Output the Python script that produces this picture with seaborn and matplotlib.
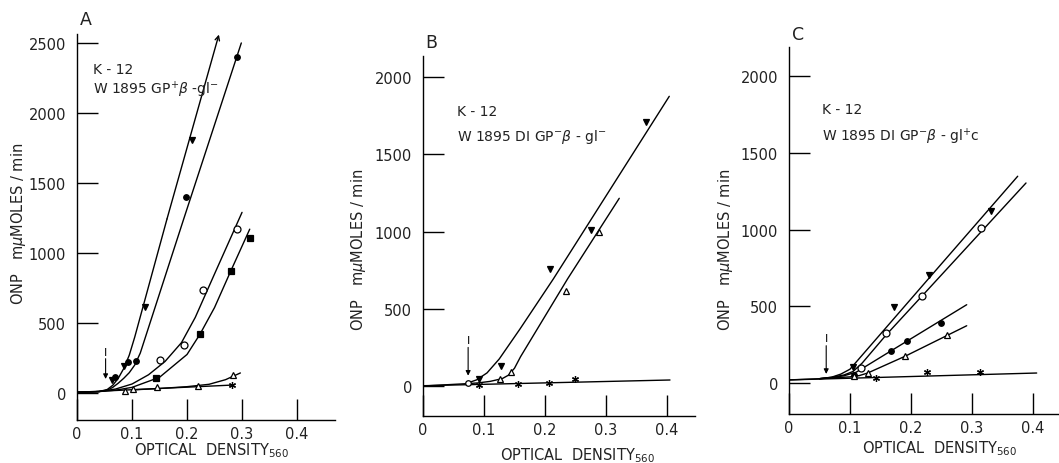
import matplotlib
matplotlib.use("Agg")
import matplotlib.pyplot as plt
import seaborn as sns

sns.set_theme(style="ticks")
plt.rcParams['font.family'] = ['DejaVu Sans']
plt.rcParams['mathtext.default'] = 'regular'

# ---------------- Panel A data ----------------
A_tri_dn_x = [0.063, 0.086, 0.123, 0.209, 0.265]
A_tri_dn_y = [95, 195, 617, 1810, 2590]
A_dot_x = [0.069, 0.093, 0.108, 0.198, 0.2915]
A_dot_y = [112, 219, 231, 1398, 2400]
A_circ_x = [0.150, 0.195, 0.2285, 0.291]
A_circ_y = [238, 345, 738, 1171]
A_sq_x = [0.1436, 0.2236, 0.2794, 0.315]
A_sq_y = [107, 424, 871, 1110]
A_tri_up_x = [0.087, 0.102, 0.146, 0.22, 0.283]
A_tri_up_y = [17, 29, 45, 52, 129]
A_star_x = [0.2824]
A_star_y = [57]

A_curve_tri_dn_x = [0, 0.04, 0.055, 0.065, 0.075, 0.085, 0.095, 0.105, 0.1636, 0.258]
A_curve_tri_dn_y = [5, 10, 25, 55, 105, 175, 270, 400, 1243, 2560]
A_curve_dot_x = [0, 0.04, 0.055, 0.065, 0.075, 0.085, 0.095, 0.105, 0.115, 0.194, 0.2987]
A_curve_dot_y = [5, 10, 20, 40, 70, 105, 145, 200, 285, 1243, 2500]
A_curve_circ_x = [0, 0.04, 0.07, 0.1, 0.13, 0.16, 0.19, 0.215, 0.25, 0.30]
A_curve_circ_y = [5, 10, 28, 64, 130, 225, 360, 540, 850, 1290]
A_curve_sq_x = [0, 0.04, 0.07, 0.1, 0.15, 0.2, 0.2236, 0.25, 0.2794, 0.314]
A_curve_sq_y = [5, 10, 20, 40, 112, 275, 420, 610, 870, 1170]
A_curve_tri_up_x = [0.1, 0.15, 0.2, 0.24, 0.27, 0.297]
A_curve_tri_up_y = [22, 32, 45, 62, 95, 143]
A_curve_star_x = [0, 0.285]
A_curve_star_y = [5, 57]

# ---------------- Panel B data ----------------
B_tri_dn_x = [0.0923, 0.1273, 0.208, 0.2754, 0.365]
B_tri_dn_y = [45, 127, 757, 1010, 1711]
B_tri_up_x = [0.126, 0.1437, 0.234, 0.2885]
B_tri_up_y = [45, 93, 613, 999]
B_circ_x = [0.0732]
B_circ_y = [17]
B_star_x = [0.092, 0.156, 0.207, 0.25]
B_star_y = [7, 13, 17, 45]

B_curve_tri_dn_x = [0, 0.07, 0.088, 0.105, 0.125, 0.159, 0.2137, 0.4038]
B_curve_tri_dn_y = [0, 15, 40, 85, 175, 369, 693, 1875]
B_curve_tri_up_x = [0.07, 0.09, 0.11, 0.13, 0.14, 0.15, 0.16, 0.237, 0.3218]
B_curve_tri_up_y = [15, 20, 30, 48, 70, 115, 190, 693, 1215]
B_curve_star_x = [0, 0.405]
B_curve_star_y = [2, 39]

# ---------------- Panel C data ----------------
C_tri_dn_x = [0.1055, 0.1727, 0.2295, 0.3306]
C_tri_dn_y = [104, 493, 706, 1123]
C_circ_x = [0.118, 0.159, 0.2186, 0.3148]
C_circ_y = [96, 326, 569, 1008]
C_dot_x = [0.107, 0.1667, 0.1929, 0.2492]
C_dot_y = [50, 208, 271, 393]
C_tri_up_x = [0.1066, 0.129, 0.1902, 0.2595]
C_tri_up_y = [44, 65, 174, 313]
C_star_x = [0.1421, 0.2257, 0.3131]
C_star_y = [30, 70, 70]

C_curve_tri_dn_x = [0, 0.05, 0.07, 0.085, 0.1, 0.2284, 0.3749]
C_curve_tri_dn_y = [20, 28, 38, 58, 90, 678, 1347]
C_curve_circ_x = [0.05, 0.07, 0.09, 0.105, 0.12, 0.159, 0.2186, 0.3885]
C_curve_circ_y = [28, 37, 52, 75, 130, 312, 569, 1303]
C_curve_dot_x = [0.05, 0.07, 0.09, 0.11, 0.1667, 0.2913]
C_curve_dot_y = [28, 35, 47, 70, 208, 510]
C_curve_tri_up_x = [0.05, 0.08, 0.1, 0.115, 0.129, 0.1902, 0.2913]
C_curve_tri_up_y = [28, 35, 40, 48, 65, 174, 373]
C_curve_star_x = [0, 0.406]
C_curve_star_y = [20, 65]

x_ticks = [0, 0.1, 0.2, 0.3, 0.4]
x_tick_labels = ["0", "0.1", "0.2", "0.3", "0.4"]
A_y_ticks = [0, 500, 1000, 1500, 2000, 2500]
BC_y_ticks = [0, 500, 1000, 1500, 2000]

panel_letters = ["A", "B", "C"]
strain_line1 = "K - 12"
A_strain = r"W 1895 GP$^{+}$$\mathit{\beta}$ -gl$^{-}$"
B_strain = r"W 1895 DI GP$^{-}$$\mathit{\beta}$ - gl$^{-}$"
C_strain = r"W 1895 DI GP$^{-}$$\mathit{\beta}$ - gl$^{+}$c"
y_label = r"ONP   m$\mathit{\mu}$MOLES / min"
x_label = r"OPTICAL  DENSITY$_{560}$"

# induction markers (x, arrow tail y, arrow tip y, "I" y)
A_ind = (0.052, 245, 100, 290)
B_ind = (0.074, 250, 67, 295)
C_ind = (0.061, 243, 59, 290)

W, H = 1059, 464
fig = plt.figure(figsize=(W / 100, H / 100), dpi=100)

def px_axes(left, top, right, bottom):
    return fig.add_axes([left / W, 1 - bottom / H, (right - left) / W, (bottom - top) / H])

axA = px_axes(77, 35, 335, 421)
axB = px_axes(423, 57, 695, 417)
axC = px_axes(789, 48, 1059, 415)

K = 'black'
LW = 1.0

def curve(ax, xs, ys):
    sns.lineplot(x=xs, y=ys, ax=ax, color=K, lw=LW, sort=False, estimator=None)

def pts(ax, xs, ys, marker, filled, ms=4.5):
    ax.plot(xs, ys, ls='none', marker=marker, ms=ms, mec=K, mew=0.9,
            mfc=K if filled else 'white', zorder=5)

STAR = (6, 2, 0)

def style(ax, xlim, ylim, yticks, letter, lettery, strain, kx, ky, wy, ylab_xy, xlab_xy):
    ax.set_xlim(*xlim)
    ax.set_ylim(*ylim)
    ax.set_xticks(x_ticks)
    ax.set_xticklabels(x_tick_labels)
    ax.set_yticks(yticks)
    ax.set_yticklabels([str(t) for t in yticks])
    for s in ['top', 'right']:
        ax.spines[s].set_visible(False)
    for s in ['left', 'bottom']:
        ax.spines[s].set_linewidth(1.0)
        ax.spines[s].set_color(K)
    ax.tick_params(axis='both', direction='in', length=15, width=1.0, colors=K,
                   labelsize=10.5, labelcolor='#222222')
    ax.tick_params(axis='y', pad=8)
    ax.tick_params(axis='x', pad=4)
    ax.set_facecolor('white')
    ax.set_ylabel(y_label, fontsize=10.5, color='#222222')
    ax.set_xlabel(x_label, fontsize=10.5, color='#222222')
    ax.yaxis.set_label_coords(*ylab_xy)
    ax.xaxis.set_label_coords(*xlab_xy)
    ax.xaxis.label.set_verticalalignment('baseline')
    ax.text(0.01, lettery, letter, transform=ax.transAxes, fontsize=12.5,
            ha='left', va='center', color='#222222')
    ax.text(kx, ky, strain_line1, transform=ax.transAxes, fontsize=10,
            ha='left', va='center', color='#222222')
    ax.text(kx, wy, strain, transform=ax.transAxes, fontsize=10,
            ha='left', va='center', color='#222222')

def induction(ax, ind):
    x, y0, y1, yi = ind
    ax.annotate('', xy=(x, y1), xytext=(x, y0),
                arrowprops=dict(arrowstyle='-|>', lw=0.8, color=K,
                                mutation_scale=7, shrinkA=0, shrinkB=0))
    ax.text(x, yi, 'I', ha='center', va='center', fontsize=8, color=K)

# ---- Panel A ----
curve(axA, A_curve_tri_dn_x[:-1], A_curve_tri_dn_y[:-1])
axA.annotate('', xy=(A_curve_tri_dn_x[-1], A_curve_tri_dn_y[-1]),
             xytext=(A_curve_tri_dn_x[-2], A_curve_tri_dn_y[-2]),
             arrowprops=dict(arrowstyle='->', lw=LW, color=K, mutation_scale=8,
                             shrinkA=0, shrinkB=0))
curve(axA, A_curve_dot_x, A_curve_dot_y)
curve(axA, A_curve_circ_x, A_curve_circ_y)
curve(axA, A_curve_sq_x, A_curve_sq_y)
curve(axA, A_curve_tri_up_x, A_curve_tri_up_y)
curve(axA, A_curve_star_x, A_curve_star_y)
pts(axA, A_tri_dn_x, A_tri_dn_y, 'v', True)
pts(axA, A_dot_x, A_dot_y, 'o', True, 4)
pts(axA, A_circ_x, A_circ_y, 'o', False, 5)
pts(axA, A_sq_x, A_sq_y, 's', True, 4)
pts(axA, A_tri_up_x, A_tri_up_y, '^', False, 5)
pts(axA, A_star_x, A_star_y, STAR, False, 5)
induction(axA, A_ind)
style(axA, (0, 0.469), (-193, 2564), A_y_ticks, "A", 1.039, A_strain,
      0.062, 0.909, 0.858, (-49 / 258, 0.51), (0.52, -0.09))

# ---- Panel B ----
curve(axB, B_curve_tri_dn_x, B_curve_tri_dn_y)
curve(axB, B_curve_tri_up_x, B_curve_tri_up_y)
curve(axB, B_curve_star_x, B_curve_star_y)
pts(axB, B_tri_dn_x, B_tri_dn_y, 'v', True)
pts(axB, B_tri_up_x, B_tri_up_y, '^', False, 5)
pts(axB, B_circ_x, B_circ_y, 'o', False, 4)
pts(axB, B_star_x, B_star_y, STAR, False, 5)
induction(axB, B_ind)
style(axB, (0, 0.446), (-194, 2136), BC_y_ticks, "B", 1.039, B_strain,
      0.125, 0.847, 0.778, (-55 / 272, 0.464), (0.568, -0.119))

# ---- Panel C ----
curve(axC, C_curve_tri_dn_x, C_curve_tri_dn_y)
curve(axC, C_curve_circ_x, C_curve_circ_y)
curve(axC, C_curve_dot_x, C_curve_dot_y)
curve(axC, C_curve_tri_up_x, C_curve_tri_up_y)
curve(axC, C_curve_star_x, C_curve_star_y)
pts(axC, C_tri_dn_x, C_tri_dn_y, 'v', True)
pts(axC, C_circ_x, C_circ_y, 'o', False, 5)
pts(axC, C_dot_x, C_dot_y, 'o', True, 4)
pts(axC, C_tri_up_x, C_tri_up_y, '^', False, 5)
pts(axC, C_star_x, C_star_y, STAR, False, 5)
induction(axC, C_ind)
style(axC, (0, 0.4426), (-202, 2189), BC_y_ticks, "C", 1.035, C_strain,
      0.122, 0.831, 0.757, (-54 / 270, 0.45), (0.559, -0.105))

fig.savefig("out.png", dpi=100, facecolor='white')
